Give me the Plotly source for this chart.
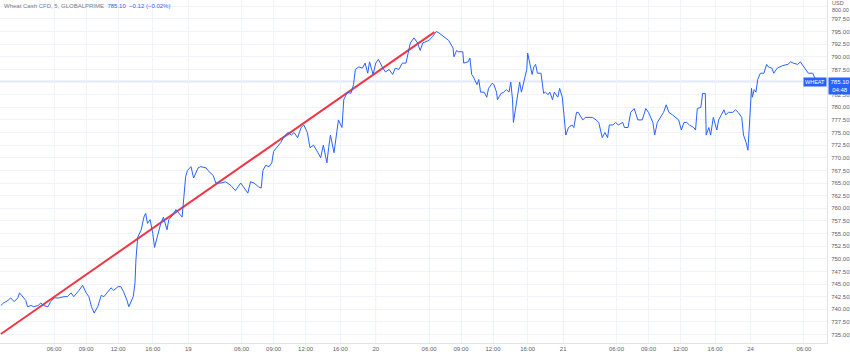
import plotly.graph_objects as go

# 5-minute bar index (sessions packed, 211 bars per trading day) and price
bar_idx = [0,3,8,11,15,19,21,25,28,30,34,37,42,45,48,53,56,60,65,71,75,79,82,88,92,96,99,102,105,109,
           113,116,120,124,127,132,135,138,142,144,149,151,152,154,158,161,163,165,168,171,173,177,180,183,187,189,194,197,200,204,
           206,208,210,214,217,222,225,231,233,239,242,248,253,259,264,270,273,278,281,285,290,293,295,298,302,305,307,312,315,318,
           323,327,330,334,338,341,345,348,352,357,360,363,367,369,371,375,378,380,384,386,390,394,397,399,403,407,410,413,415,419,
           422,425,430,433,437,441,444,448,452,456,461,465,469,472,475,478,482,486,490,493,497,501,504,509,510,513,515,520,521,526,
           528,530,532,536,538,540,544,547,549,553,555,558,559,563,566,569,572,574,576,577,580,582,584,586,589,592,593,595,598,600,
           602,604,608,611,613,616,618,621,623,627,629,632,634,636,639,643,645,648,650,655,658,662,666,670,673,677,680,683,685,689,
           692,695,700,702,706,709,713,717,722,726,729,734,736,739,743,746,749,752,756,760,763,766,769,772,775,780,782,784,788,790,
           793,794,797,799,802,806,808,811,814,816,819,824,827,830,834,836,839,841,844,845,846,848,850,852,855,859,862,864,868,870,
           874,880,886,889,892,897,900,904,907,909,914,916,918]
price = [740.75,741.25,741.75,742.25,741.5,742.25,743.25,742.25,741.75,740.5,740.75,740.5,740.75,741.25,740.75,740.5,741.5,742.25,742.25,742.5,742.5,743.25,742.5,743.75,744.75,743.25,742.5,740.5,739.25,740.5,
         742.75,742.5,743.5,744.25,743.75,744.5,744.5,743.5,741.75,740.5,742.5,745.25,749.75,754.25,755.75,758.25,759.0,757.0,757.75,755.0,752.25,755.0,757.0,758.25,755.75,757.75,758.75,759.75,759.0,758.25,
         762.25,766.25,767.5,768.25,766.0,768.0,768.25,768.0,767.5,766.5,765.0,765.0,765.25,764.5,763.5,765.0,764.25,763.0,765.25,765.0,764.25,764.0,767.5,768.5,768.25,769.0,771.25,772.25,773.0,774.0,
         775.0,774.5,775.0,774.0,776.0,776.5,775.0,772.0,772.5,771.0,770.0,772.5,769.0,772.0,774.5,771.0,775.0,777.5,776.0,781.5,783.0,782.75,784.5,787.5,788.0,787.75,788.75,786.75,789.0,786.5,
         788.75,789.5,787.75,787.0,787.5,786.5,787.75,787.5,788.75,788.75,792.75,793.75,792.75,791.25,792.75,793.0,793.25,794.0,795.0,794.75,794.25,793.75,793.25,791.75,790.0,791.25,791.0,791.0,788.75,789.0,
         789.75,786.5,786.0,784.5,785.5,783.0,783.0,782.0,783.75,784.75,784.5,783.0,781.5,782.75,783.0,783.5,783.0,785.0,781.5,777.0,780.5,783.5,785.0,783.0,785.5,787.5,790.75,789.0,786.5,788.0,
         788.5,786.75,786.75,782.75,783.0,782.5,783.0,781.5,783.0,782.0,783.75,782.0,778.0,774.5,776.0,776.5,776.0,779.0,779.0,777.5,778.0,778.0,778.0,777.5,777.0,774.0,775.0,774.0,776.5,776.5,
         777.0,776.5,777.0,776.0,776.0,779.0,779.75,777.5,777.5,779.75,779.0,777.0,774.5,777.0,778.0,779.0,780.5,779.0,778.5,778.0,777.5,775.5,777.0,777.0,776.5,776.0,775.5,779.75,780.0,782.75,
         782.75,774.5,776.0,774.5,778.0,775.5,777.5,778.5,779.5,778.5,779.0,779.0,779.5,779.0,778.0,774.5,773.0,771.5,780.0,783.75,782.0,783.5,783.0,785.5,786.75,786.75,788.5,788.0,787.75,786.75,
         787.75,788.25,788.5,789.0,788.75,788.5,789.0,788.0,787.0,786.75,786.75,785.75,785.1]

# trend line drawn on the chart
trend_bars = [0, 488]
trend_prices = [735.1, 794.9]

# time axis ticks (bar index of each label)
tick_bars = [0, 60, 96, 132, 171, 211, 271, 307, 343, 382, 422, 482, 518, 554, 593, 633, 693, 729, 765, 804, 844, 904]
tick_labels = ["18", "06:00", "09:00", "12:00", "16:00", "19", "06:00", "09:00", "12:00", "16:00",
               "20", "06:00", "09:00", "12:00", "16:00", "21", "06:00", "09:00", "12:00", "16:00", "24", "06:00"]
day_bars = [211, 422, 633, 844]

# price axis ticks (the top one, 800.00, is shown under the currency label)
price_ticks = [735.0, 737.5, 740.0, 742.5, 745.0, 747.5, 750.0, 752.5, 755.0, 757.5, 760.0, 762.5, 765.0,
               767.5, 770.0, 772.5, 775.0, 777.5, 780.0, 782.5, 785.0, 787.5, 790.0, 792.5, 795.0, 797.5]
top_tick = 800.0
currency = "USD"

last_price = 785.10
title_text = "Wheat Cash CFD, 5, GLOBALPRIME"
change_text = "785.10  −0.12 (−0.02%)"

BLUE = "#2962ff"
FONT = "Liberation Sans"
TXT = "#5d606b"

fig = go.Figure()
fig.add_trace(go.Scatter(x=trend_bars, y=trend_prices, mode="lines",
                         line=dict(color="#f23645", width=2), hoverinfo="skip"))
fig.add_trace(go.Scatter(x=bar_idx, y=price, mode="lines",
                         line=dict(color=BLUE, width=1), hoverinfo="skip"))

shapes = []
for b in day_bars:
    shapes.append(dict(type="line", xref="x", yref="paper", x0=b, x1=b, y0=0, y1=1,
                       line=dict(color="rgba(255,152,0,0.12)", width=1), layer="below"))
shapes.append(dict(type="line", xref="paper", yref="y", x0=0, x1=1, y0=last_price, y1=last_price,
                   line=dict(color="rgba(41,98,255,0.15)", width=2), layer="below"))
shapes.append(dict(type="line", xref="paper", yref="y", x0=0, x1=1, y0=top_tick, y1=top_tick,
                   line=dict(color="#f0f3fa", width=1), layer="below"))

annotations = [
    dict(xref="paper", yref="paper", x=0.003, y=0.997, xanchor="left", yanchor="top",
         text=f"<span style='color:#787b86'>{title_text}</span>  <span style='color:{BLUE}'>{change_text}</span>",
         showarrow=False, font=dict(family=FONT, size=6)),
    dict(xref="paper", yref="y", x=1, y=last_price, xanchor="right", yanchor="middle",
         text="WHEAT", showarrow=False, bgcolor=BLUE, font=dict(family=FONT, size=5.5, color="white"),
         borderpad=1),
    dict(xref="paper", yref="y", x=1, y=last_price, xanchor="left", yanchor="top", yshift=5, xshift=1,
         text="785.10<br>04:48", showarrow=False, bgcolor=BLUE, align="center",
         font=dict(family=FONT, size=6, color="white"), borderpad=1, width=20),
    dict(xref="paper", yref="paper", x=1, y=1.0, xanchor="left", yanchor="top", xshift=4, yshift=1,
         text=f"{currency}<br>{top_tick:.2f}", showarrow=False, borderpad=0, align="left",
         font=dict(family=FONT, size=5.5, color=TXT)),
]

fig.update_layout(
    width=850, height=357,
    margin=dict(l=0, r=23, t=0, b=14),
    paper_bgcolor="white", plot_bgcolor="white",
    showlegend=False,
    shapes=shapes, annotations=annotations,
    xaxis=dict(range=[-1, 930], tickmode="array", tickvals=tick_bars, ticktext=tick_labels,
               showgrid=True, gridcolor="#f0f3fa", gridwidth=1, zeroline=False,
               showline=True, linecolor="#e0e3eb", ticks="", ticklen=0,
               tickfont=dict(family=FONT, size=6, color=TXT), automargin=False),
    yaxis=dict(side="right", range=[733.32, 801.25], tickmode="array", tickvals=price_ticks,
               tickformat=".2f",
               showgrid=True, gridcolor="#f0f3fa", gridwidth=1, zeroline=False,
               showline=True, linecolor="#e0e3eb", ticks="", ticklabelstandoff=2,
               tickfont=dict(family=FONT, size=6, color=TXT), automargin=False),
    hovermode=False,
)

fig.write_html("out.html", config={"displayModeBar": False, "staticPlot": True},
               post_script="document.body.style.margin='0';document.body.style.overflow='hidden';")
